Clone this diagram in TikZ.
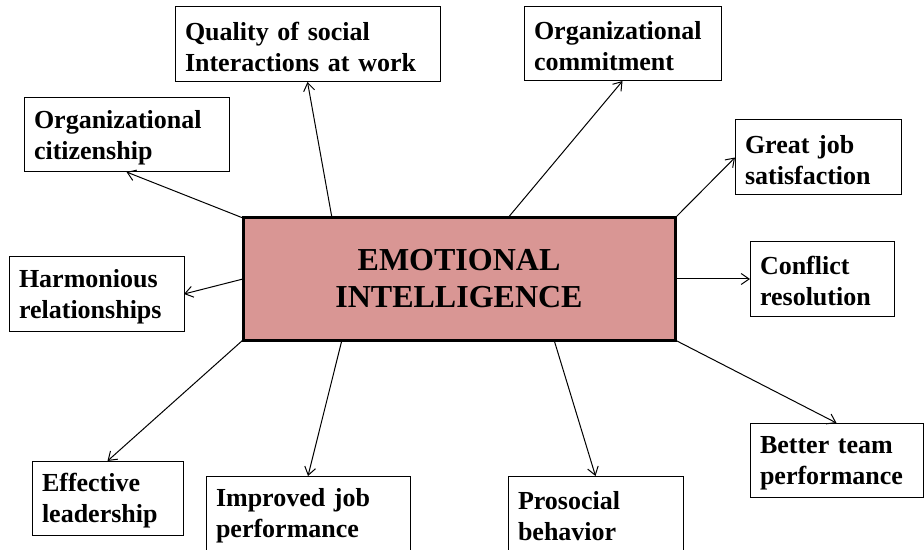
\documentclass[tikz,border=0pt]{standalone}
\usepackage{fontspec}
\setmainfont{Liberation Serif}
\usepackage{tikz}
\usetikzlibrary{arrows.meta,calc}
\usepackage{xcolor}
\definecolor{eipink}{HTML}{D99694}

\begin{document}
\begin{tikzpicture}[x=0.5pt, y=-0.5pt, outer sep=0pt,
  >={Straight Barb[length=4pt, width=5.5pt]},
  outcome/.style={draw, line width=0.5pt, inner xsep=5pt, align=left,
    font=\fontsize{13}{15.5}\selectfont\bfseries,
    execute at begin node={\rule{0pt}{11.5pt}}},
  link/.style={->, line width=0.5pt}]

\useasboundingbox (0, 0) rectangle (924, 550);

\node at (459, 279) (EI) [draw, fill=eipink, line width=1.5pt, align=center,
  minimum width=216pt, minimum height=61pt,
  font=\fontsize{16}{18.5}\selectfont\bfseries] {EMOTIONAL\\INTELLIGENCE};

\node at (307.5, 44.5) (QUALITY) [outcome, text width=122.5pt, minimum height=37.5pt]
  {Quality of social\\Interactions at work};
\node at (622.5, 44) (COMMITMENT) [outcome, text width=88.5pt, minimum height=37pt]
  {Organizational\\commitment};
\node at (126.5, 135) (CITIZENSHIP) [outcome, text width=92.5pt, minimum height=37pt]
  {Organizational\\citizenship};
\node at (818, 157.5) (SATISFACTION) [outcome, text width=73pt, minimum height=37.5pt]
  {Great job\\satisfaction};
\node at (96.5, 294) (HARMONY) [outcome, text width=77.5pt, minimum height=37pt]
  {Harmonious\\relationships};
\node at (822, 279) (CONFLICT) [outcome, text width=62pt, minimum height=37pt]
  {Conflict\\resolution};
\node at (107.5, 498) (LEADERSHIP) [outcome, text width=65.5pt, minimum height=37pt]
  {Effective\\leadership};
\node at (308, 513.5) (JOB_PERF) [outcome, text width=92pt, minimum height=37.5pt]
  {Improved job\\performance};
\node at (595.5, 513.5) (PROSOCIAL) [outcome, text width=77.5pt, minimum height=37.5pt]
  {Prosocial\\behavior};
\node at (836.5, 460) (TEAM_PERF) [outcome, text width=76.5pt, minimum height=37pt]
  {Better team\\performance};

    \draw [link] ($(EI.north west)!0.206!(EI.north east)$) -- (QUALITY.south);
    \draw [link] ($(EI.north west)!0.613!(EI.north east)$) -- (COMMITMENT.south);
    \draw [link] (EI.north west) -- (CITIZENSHIP.south);
    \draw [link] (EI.north east) -- (SATISFACTION.west);
    \draw [link] (EI.west) -- (HARMONY.east);
    \draw [link] (EI.east) -- (CONFLICT.west);
    \draw [link] (EI.south west) -- (LEADERSHIP.north);
    \draw [link] ($(EI.south west)!0.229!(EI.south east)$) -- (JOB_PERF.north);
    \draw [link] ($(EI.south west)!0.72!(EI.south east)$) -- (PROSOCIAL.north);
    \draw [link] (EI.south east) -- (TEAM_PERF.north);
\end{tikzpicture}
\end{document}
